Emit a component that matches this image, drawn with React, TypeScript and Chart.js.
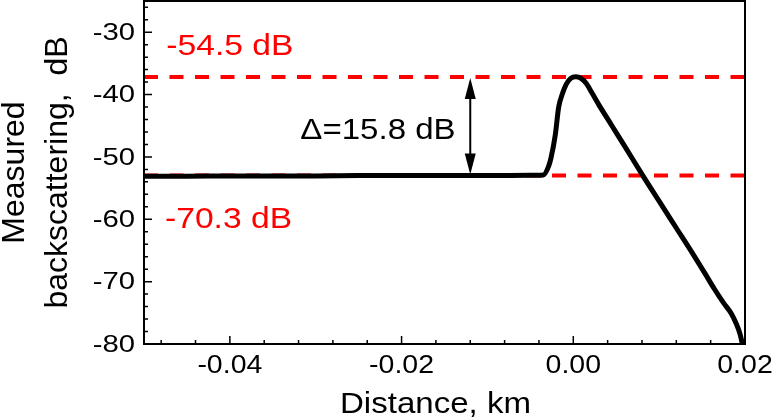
import React, { useEffect, useRef } from "react";
import { Chart, registerables } from "chart.js";

Chart.register(...registerables);

// ---- data ----
const X_RANGE = [-0.05, 0.02];
const Y_RANGE = [-80, -25];
const X_TICKS = [-0.04, -0.02, 0.0, 0.02];
const X_TICK_LABELS = ["-0.04", "-0.02", "0.00", "0.02"];
const X_MINOR_STEP = 0.004;
const Y_TICKS = [-30, -40, -50, -60, -70, -80];
const Y_TICK_LABELS = ["-30", "-40", "-50", "-60", "-70", "-80"];
const Y_MINOR_STEP = 2;

const DIST_KM = [
  -0.05, -0.045, -0.04, -0.035, -0.03, -0.025, -0.02, -0.015, -0.01, -0.005,
  -0.0035, -0.0029, -0.0026, -0.0021, -0.0017, -0.0013, -0.0008, -0.0003,
  0.0003, 0.0009, 0.0015, 0.0022, 0.003, 0.0045, 0.006, 0.0081, 0.01, 0.012,
  0.014, 0.0153, 0.0164, 0.0175, 0.0184, 0.019, 0.0194, 0.0197,
];
const BACKSCATTER_DB = [
  -53.1, -53.1, -53.05, -53.05, -53.05, -53.0, -53.0, -53.0, -53.0, -52.95,
  -52.9, -51.6, -50.2, -46.5, -42.0, -40.0, -38.3, -37.4,
  -37.15, -37.4, -38.2, -39.8, -41.7, -45.0, -48.3, -53.0, -57.1, -61.4,
  -65.7, -68.6, -71.1, -73.4, -75.1, -76.8, -78.3, -80.0,
];

const LEVEL_TOP = -37.2;
const LEVEL_BOTTOM = -53.0;
const ARROW_X = -0.012;

const LABEL_TOP_TEXT = "-54.5 dB";
const LABEL_BOTTOM_TEXT = "-70.3 dB";
const LABEL_DELTA_TEXT = "\u0394=15.8 dB";
const X_TITLE = "Distance, km";
const Y_TITLE_LINE1 = "Measured";
const Y_TITLE_LINE2 = "backscattering,  dB";

// ---- positions of annotations (data coords) ----
const POS_TOP = { x: -0.0474, y: -33.6 };
const POS_BOTTOM = { x: -0.04755, y: -61.4 };
const POS_DELTA = { x: -0.0137, y: -47.1 };

const FONT = '"Liberation Sans", Arial, Helvetica, sans-serif';
const SX = 1.14;

function stretchedText(
  ctx: CanvasRenderingContext2D,
  text: string,
  x: number,
  y: number,
  align: CanvasTextAlign,
  baseline: CanvasTextBaseline,
  size: number,
  color: string,
  sx: number
) {
  ctx.save();
  ctx.translate(x, y);
  ctx.scale(sx, 1);
  ctx.font = `${size}px ${FONT}`;
  ctx.fillStyle = color;
  ctx.textAlign = align;
  ctx.textBaseline = baseline;
  ctx.fillText(text, 0, 0);
  ctx.restore();
}

const overlay = {
  id: "overlay",
  afterDatasetsDraw(chart: any) {
    const ctx: CanvasRenderingContext2D = chart.ctx;
    const xs = chart.scales.x;
    const ys = chart.scales.y;
    const ax = xs.getPixelForValue(ARROW_X);
    const yT = ys.getPixelForValue(LEVEL_TOP) + 1;
    const yB = ys.getPixelForValue(LEVEL_BOTTOM) - 1;
    const head = 21;
    const hw = 5.5;
    ctx.save();
    ctx.strokeStyle = "#000";
    ctx.fillStyle = "#000";
    ctx.lineWidth = 2;
    ctx.beginPath();
    ctx.moveTo(ax, yT + head - 2);
    ctx.lineTo(ax, yB - head + 2);
    ctx.stroke();
    ctx.beginPath();
    ctx.moveTo(ax, yT);
    ctx.lineTo(ax - hw, yT + head);
    ctx.lineTo(ax + hw, yT + head);
    ctx.closePath();
    ctx.fill();
    ctx.beginPath();
    ctx.moveTo(ax, yB);
    ctx.lineTo(ax - hw, yB - head);
    ctx.lineTo(ax + hw, yB - head);
    ctx.closePath();
    ctx.fill();
    ctx.restore();
  },
  afterDraw(chart: any) {
    const ctx: CanvasRenderingContext2D = chart.ctx;
    const { left, right, top, bottom } = chart.chartArea;
    const xs = chart.scales.x;
    const ys = chart.scales.y;
    ctx.save();
    // frame
    ctx.strokeStyle = "#000";
    ctx.lineWidth = 2;
    ctx.strokeRect(left, top, right - left, bottom - top);
    // ticks
    ctx.lineWidth = 1.5;
    ctx.beginPath();
    const nx0 = Math.ceil(X_RANGE[0] / X_MINOR_STEP - 1e-9);
    const nx1 = Math.floor(X_RANGE[1] / X_MINOR_STEP + 1e-9);
    for (let i = nx0; i <= nx1; i++) {
      const v = i * X_MINOR_STEP;
      const px = xs.getPixelForValue(v);
      const len = i % 5 === 0 ? 8 : 4;
      ctx.moveTo(px, bottom);
      ctx.lineTo(px, bottom - len);
    }
    const ny0 = Math.ceil(Y_RANGE[0] / Y_MINOR_STEP);
    const ny1 = Math.floor(Y_RANGE[1] / Y_MINOR_STEP);
    for (let i = ny0; i <= ny1; i++) {
      const v = i * Y_MINOR_STEP;
      const py = ys.getPixelForValue(v);
      const len = v % 10 === 0 ? 8 : 4;
      ctx.moveTo(left, py);
      ctx.lineTo(left + len, py);
    }
    ctx.stroke();
    ctx.restore();

    // tick labels
    X_TICKS.forEach((v, i) => {
      stretchedText(ctx, X_TICK_LABELS[i], xs.getPixelForValue(v), bottom + 22, "center", "middle", 25, "#000", SX);
    });
    Y_TICKS.forEach((v, i) => {
      stretchedText(ctx, Y_TICK_LABELS[i], left - 9, ys.getPixelForValue(v) + 1, "right", "middle", 24, "#000", 1.22);
    });

    // axis titles
    stretchedText(ctx, X_TITLE, (left + right) / 2 - 9, bottom + 69, "center", "alphabetic", 29, "#000", SX);
    const cy = (top + bottom) / 2;
    ctx.save();
    ctx.font = `32px ${FONT}`;
    ctx.fillStyle = "#000";
    ctx.textAlign = "center";
    ctx.textBaseline = "alphabetic";
    ctx.translate(24, cy);
    ctx.rotate(-Math.PI / 2);
    ctx.fillText(Y_TITLE_LINE1, 0, 0);
    ctx.restore();
    ctx.save();
    ctx.font = `32px ${FONT}`;
    ctx.fillStyle = "#000";
    ctx.textAlign = "center";
    ctx.textBaseline = "alphabetic";
    ctx.translate(67, cy);
    ctx.rotate(-Math.PI / 2);
    ctx.fillText(Y_TITLE_LINE2, 0, 0);
    ctx.restore();

    // annotations
    stretchedText(ctx, LABEL_TOP_TEXT, xs.getPixelForValue(POS_TOP.x), ys.getPixelForValue(POS_TOP.y), "left", "alphabetic", 30, "#ff0000", 1.12);
    stretchedText(ctx, LABEL_BOTTOM_TEXT, xs.getPixelForValue(POS_BOTTOM.x), ys.getPixelForValue(POS_BOTTOM.y), "left", "alphabetic", 30, "#ff0000", 1.12);
    stretchedText(ctx, LABEL_DELTA_TEXT, xs.getPixelForValue(POS_DELTA.x), ys.getPixelForValue(POS_DELTA.y), "right", "alphabetic", 29, "#000", 1.14);
  },
};

export default function App() {
  const ref = useRef<HTMLCanvasElement | null>(null);
  useEffect(() => {
    if (!ref.current) return;
    const curve = DIST_KM.map((x, i) => ({ x, y: BACKSCATTER_DB[i] }));
    const topLine = [
      { x: X_RANGE[0], y: LEVEL_TOP },
      { x: X_RANGE[1], y: LEVEL_TOP },
    ];
    const bottomLine = [
      { x: X_RANGE[0], y: LEVEL_BOTTOM },
      { x: X_RANGE[1], y: LEVEL_BOTTOM },
    ];
    const chart = new Chart(ref.current, {
      type: "line",
      data: {
        datasets: [
          {
            data: curve,
            borderColor: "#000",
            borderWidth: 5,
            pointRadius: 0,
            cubicInterpolationMode: "monotone",
            borderJoinStyle: "round",
            order: 0,
          },
          {
            data: topLine,
            borderColor: "#ff0000",
            borderWidth: 4,
            borderDash: [14, 11.5],
            pointRadius: 0,
            order: 1,
          },
          {
            data: bottomLine,
            borderColor: "#ff0000",
            borderWidth: 4,
            borderDash: [14, 11.5],
            pointRadius: 0,
            order: 2,
          },
        ],
      },
      options: {
        responsive: false,
        maintainAspectRatio: false,
        devicePixelRatio: 1,
        animation: false,
        events: [],
        layout: { padding: { left: 144, right: 28, top: 1, bottom: 76 } },
        plugins: { legend: { display: false }, tooltip: { enabled: false } },
        scales: {
          x: { type: "linear", display: false, min: X_RANGE[0], max: X_RANGE[1] },
          y: { type: "linear", display: false, min: Y_RANGE[0], max: Y_RANGE[1] },
        },
      },
      plugins: [overlay],
    });
    return () => chart.destroy();
  }, []);
  return (
    <div style={{ position: "absolute", left: 0, top: 0, width: 773, height: 420, background: "#fff" }}>
      <canvas ref={ref} width={773} height={420} />
    </div>
  );
}
